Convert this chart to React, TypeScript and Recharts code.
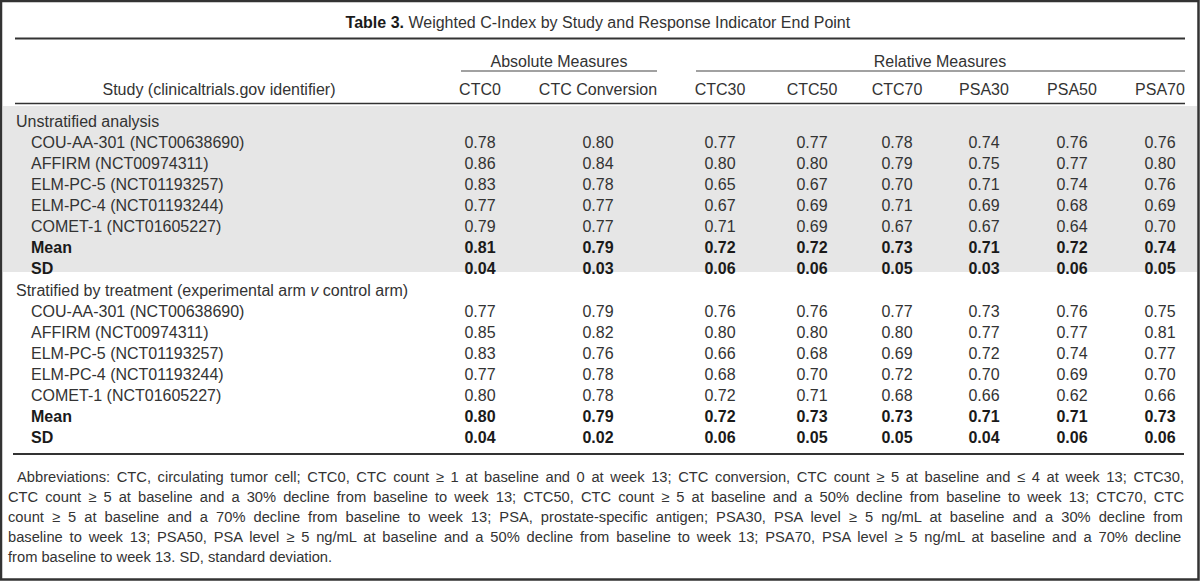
import React from 'react';
import { ScatterChart, Scatter, XAxis, YAxis, ReferenceLine, ReferenceArea } from 'recharts';

// ---------- DATA ----------
const titleBold = 'Table 3.';
const titleRest = ' Weighted C-Index by Study and Response Indicator End Point';
const groupHeaders = ['Absolute Measures', 'Relative Measures'];
const studyHeader = 'Study (clinicaltrials.gov identifier)';
const columns = ['CTC0', 'CTC Conversion', 'CTC30', 'CTC50', 'CTC70', 'PSA30', 'PSA50', 'PSA70'];
const sections = ['Unstratified analysis', 'Stratified by treatment (experimental arm v control arm)'];
const studies = [
  'COU-AA-301 (NCT00638690)',
  'AFFIRM (NCT00974311)',
  'ELM-PC-5 (NCT01193257)',
  'ELM-PC-4 (NCT01193244)',
  'COMET-1 (NCT01605227)',
];
const summaryRows = ['Mean', 'SD'];

const unstratified = [
  [0.78, 0.80, 0.77, 0.77, 0.78, 0.74, 0.76, 0.76],
  [0.86, 0.84, 0.80, 0.80, 0.79, 0.75, 0.77, 0.80],
  [0.83, 0.78, 0.65, 0.67, 0.70, 0.71, 0.74, 0.76],
  [0.77, 0.77, 0.67, 0.69, 0.71, 0.69, 0.68, 0.69],
  [0.79, 0.77, 0.71, 0.69, 0.67, 0.67, 0.64, 0.70],
];
const unstratifiedMean = [0.81, 0.79, 0.72, 0.72, 0.73, 0.71, 0.72, 0.74];
const unstratifiedSD = [0.04, 0.03, 0.06, 0.06, 0.05, 0.03, 0.06, 0.05];

const stratified = [
  [0.77, 0.79, 0.76, 0.76, 0.77, 0.73, 0.76, 0.75],
  [0.85, 0.82, 0.80, 0.80, 0.80, 0.77, 0.77, 0.81],
  [0.83, 0.76, 0.66, 0.68, 0.69, 0.72, 0.74, 0.77],
  [0.77, 0.78, 0.68, 0.70, 0.72, 0.70, 0.69, 0.70],
  [0.80, 0.78, 0.72, 0.71, 0.68, 0.66, 0.62, 0.66],
];
const stratifiedMean = [0.80, 0.79, 0.72, 0.73, 0.73, 0.71, 0.71, 0.73];
const stratifiedSD = [0.04, 0.02, 0.06, 0.05, 0.05, 0.04, 0.06, 0.06];

const footnoteLines = [
  'Abbreviations: CTC, circulating tumor cell; CTC0, CTC count \u2265 1 at baseline and 0 at week 13; CTC conversion, CTC count \u2265 5 at baseline and \u2264 4 at week 13; CTC30,',
  'CTC count \u2265 5 at baseline and a 30% decline from baseline to week 13; CTC50, CTC count \u2265 5 at baseline and a 50% decline from baseline to week 13; CTC70, CTC',
  'count \u2265 5 at baseline and a 70% decline from baseline to week 13; PSA, prostate-specific antigen; PSA30, PSA level \u2265 5 ng/mL at baseline and a 30% decline from',
  'baseline to week 13; PSA50, PSA level \u2265 5 ng/mL at baseline and a 50% decline from baseline to week 13; PSA70, PSA level \u2265 5 ng/mL at baseline and a 70% decline',
  'from baseline to week 13. SD, standard deviation.',
];

// ---------- LAYOUT ----------
const W = 1200;
const H = 581;
const FONT = '"Liberation Sans", Arial, Helvetica, sans-serif';
const FS = 16;
const FOOT_FS = 14.7;
const INK = '#333333';
const colX = [480, 598, 720, 812, 897, 984, 1072, 1160];
const groupX = [559, 940];
const LEFT = 16;
const INDENT = 31;
const RIGHT = 1185;
const sectionTop = [121, 290];
const ROW = 21;
const footY0 = 477;
const FOOT_ROW = 20;
const footLeft = 8;

type TextPt = {
  x: number;
  y: number;
  text: string;
  anchor?: 'start' | 'middle' | 'end';
  bold?: boolean;
  justify?: number;
  italicV?: boolean;
  title?: boolean;
  size?: number;
};

const pts: TextPt[] = [];
pts.push({ x: 404, y: 22, text: titleRest, anchor: 'start', title: true });
groupHeaders.forEach((g, i) => pts.push({ x: groupX[i], y: 61, text: g, anchor: 'middle' }));
pts.push({ x: 219, y: 89, text: studyHeader, anchor: 'middle' });
columns.forEach((c, i) => pts.push({ x: colX[i], y: 89, text: c, anchor: 'middle' }));

const addSection = (si: number, rows: number[][], mean: number[], sd: number[]) => {
  const y0 = sectionTop[si];
  pts.push({ x: LEFT, y: y0, text: sections[si], anchor: 'start', italicV: si === 1 });
  const all = [...rows, mean, sd];
  const labels = [...studies, ...summaryRows];
  all.forEach((r, ri) => {
    const y = y0 + ROW * (ri + 1);
    const bold = ri >= studies.length;
    pts.push({ x: INDENT, y, text: labels[ri], anchor: 'start', bold });
    r.forEach((v, ci) => pts.push({ x: colX[ci], y, text: v.toFixed(2), anchor: 'middle', bold }));
  });
};
addSection(0, unstratified, unstratifiedMean, unstratifiedSD);
addSection(1, stratified, stratifiedMean, stratifiedSD);

footnoteLines.forEach((t, i) => {
  const first = i === 0;
  const last = i === footnoteLines.length - 1;
  const x = first ? footLeft + 9 : footLeft;
  pts.push({
    x,
    y: footY0 + FOOT_ROW * i,
    text: t,
    anchor: 'start',
    size: FOOT_FS,
    justify: last ? undefined : 1184 - x,
  });
});

let ctx: CanvasRenderingContext2D | null = null;
const measure = (t: string, size: number, weight = 400) => {
  if (typeof document === 'undefined') return 0;
  if (!ctx) ctx = document.createElement('canvas').getContext('2d');
  if (!ctx) return 0;
  ctx.font = `${weight} ${size}px "Liberation Sans", Arial, sans-serif`;
  return ctx.measureText(t).width;
};

const TextShape = (props: any) => {
  const { cx, cy, payload } = props;
  const p: TextPt = payload;
  const size = p.size || FS;
  const common = {
    x: cx,
    y: cy,
    textAnchor: p.anchor || 'middle',
    dominantBaseline: 'central' as const,
    fontFamily: FONT,
    fontSize: size,
    fill: INK,
  };
  if (p.title) {
    return (
      <text {...common} x={cx - measure(titleBold, size, 700)}>
        <tspan fontWeight={700} fill="#1a1a1a">{titleBold}</tspan>
        <tspan>{p.text}</tspan>
      </text>
    );
  }
  if (p.italicV) {
    const [a, b] = p.text.split(' v ');
    return (
      <text {...common}>
        <tspan>{a + ' '}</tspan>
        <tspan fontStyle="italic">v</tspan>
        <tspan>{' ' + b}</tspan>
      </text>
    );
  }
  let style: React.CSSProperties | undefined;
  if (p.justify) {
    const nat = measure(p.text, size);
    const spaces = (p.text.match(/ /g) || []).length;
    if (nat > 0 && spaces > 0) style = { wordSpacing: `${(p.justify - nat) / spaces}px` };
  }
  return (
    <text {...common} fontWeight={p.bold ? 700 : 400} fill={p.bold ? '#1a1a1a' : INK} style={style}>
      {p.text}
    </text>
  );
};

export default function App() {
  return (
    <div style={{ position: 'absolute', left: 0, top: 0, width: W, height: H, background: '#fff' }}>
      <ScatterChart width={W} height={H} margin={{ top: 0, right: 0, bottom: 0, left: 0 }}>
        <XAxis type="number" dataKey="x" domain={[0, W]} hide />
        <YAxis type="number" dataKey="y" domain={[0, H]} reversed hide />
        <ReferenceArea x1={3} x2={1197} y1={106} y2={272} fill="#e6e6e6" fillOpacity={1} stroke="none" ifOverflow="visible" />
        <ReferenceArea x1={1} x2={1198.5} y1={1} y2={579.5} fill="none" stroke="#333" strokeWidth={2.5} ifOverflow="visible" />
        <ReferenceLine segment={[{ x: LEFT - 1, y: 38.5 }, { x: RIGHT, y: 38.5 }]} stroke="#333" strokeWidth={2} ifOverflow="visible" />
        <ReferenceLine segment={[{ x: 461, y: 71 }, { x: 657, y: 71 }]} stroke="#444" strokeWidth={1.2} ifOverflow="visible" />
        <ReferenceLine segment={[{ x: 696, y: 71 }, { x: RIGHT, y: 71 }]} stroke="#444" strokeWidth={1.2} ifOverflow="visible" />
        <ReferenceLine segment={[{ x: LEFT - 1, y: 103.5 }, { x: RIGHT, y: 103.5 }]} stroke="#333" strokeWidth={1.6} ifOverflow="visible" />
        <ReferenceLine segment={[{ x: 13, y: 454 }, { x: 1184, y: 454 }]} stroke="#333" strokeWidth={2} ifOverflow="visible" />
        <Scatter data={pts} dataKey="y" isAnimationActive={false} shape={TextShape} />
      </ScatterChart>
    </div>
  );
}
